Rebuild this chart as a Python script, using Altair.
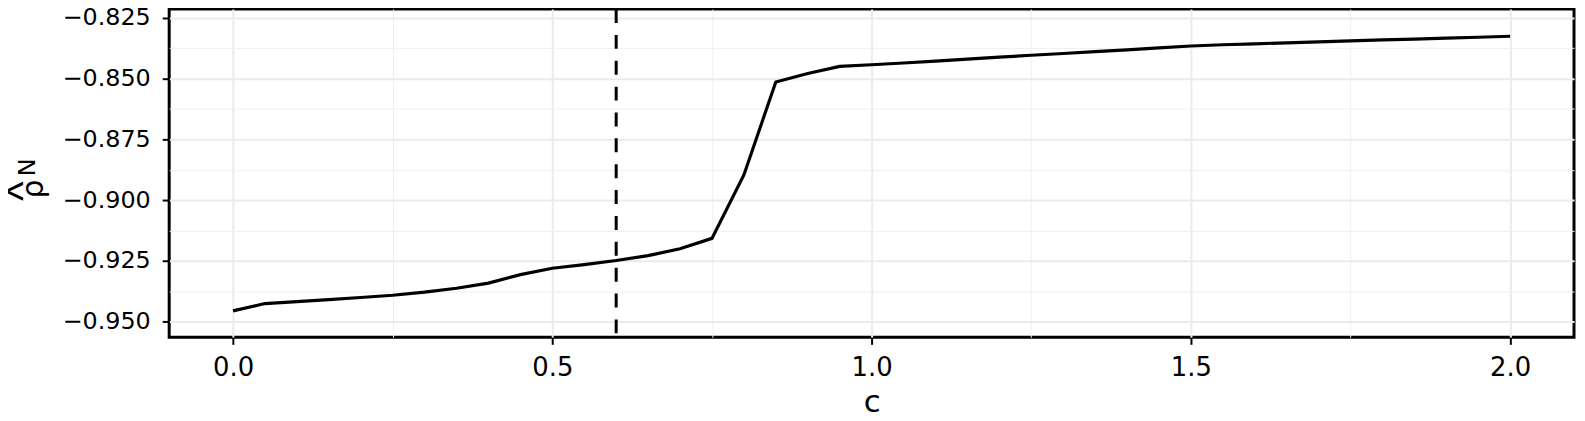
import altair as alt
import pandas as pd

c_vals = [0.00, 0.05, 0.10, 0.15, 0.20, 0.25, 0.30, 0.35, 0.40, 0.45,
          0.50, 0.55, 0.60, 0.65, 0.70, 0.75, 0.80, 0.85, 0.90, 0.95,
          1.00, 1.05, 1.10, 1.15, 1.20, 1.25, 1.30, 1.35, 1.40, 1.45,
          1.50, 1.55, 1.60, 1.65, 1.70, 1.75, 1.80, 1.85, 1.90, 1.95, 2.00]
rho_vals = [-0.9455, -0.9425, -0.9417, -0.9409, -0.9400, -0.9391, -0.9378, -0.9362, -0.9341, -0.9306,
            -0.9280, -0.9265, -0.9248, -0.9228, -0.9200, -0.9157, -0.8896, -0.8514, -0.8479, -0.8450,
            -0.8443, -0.8436, -0.8428, -0.8420, -0.8412, -0.8404, -0.8397, -0.8389, -0.8382, -0.8374,
            -0.8366, -0.8361, -0.8357, -0.8353, -0.8349, -0.8345, -0.8341, -0.8338, -0.8334, -0.8330, -0.8326]
vline_c = 0.6

x_major = [0.0, 0.5, 1.0, 1.5, 2.0]
x_minor = [0.25, 0.75, 1.25, 1.75]
y_major = [-0.950, -0.925, -0.900, -0.875, -0.850, -0.825]
y_minor = [-0.9375, -0.9125, -0.8875, -0.8625, -0.8375]

df = pd.DataFrame({"c": c_vals, "rho": rho_vals})
one = pd.DataFrame({"t": [0]})

xscale = alt.Scale(domain=[-0.1, 2.1], nice=False, zero=False)
yscale = alt.Scale(domain=[-0.9564, -0.8214], nice=False, zero=False)

FONT = "DejaVu Sans"

minor_grid = alt.Chart(df).mark_point(opacity=0).encode(
    x=alt.X("c:Q", scale=xscale,
            axis=alt.Axis(values=x_minor, orient="top", grid=True, gridWidth=1,
                          gridColor="#EFEFEF", labels=False, ticks=False,
                          domain=False, title=None)),
    y=alt.Y("rho:Q", scale=yscale,
            axis=alt.Axis(values=y_minor, orient="right", grid=True, gridWidth=1,
                          gridColor="#EFEFEF", labels=False, ticks=False,
                          domain=False, title=None)),
)

line = alt.Chart(df).mark_line(color="black", strokeWidth=3.2).encode(
    x=alt.X("c:Q", scale=xscale,
            axis=alt.Axis(values=x_major, format=".1f", title="c", grid=True,
                          gridColor="#EBEBEB", gridWidth=2,
                          labelFontSize=26, labelPadding=10,
                          titleFontSize=31, titlePadding=8)),
    y=alt.Y("rho:Q", scale=yscale,
            axis=alt.Axis(values=y_major, format=".3f", title=None, grid=True,
                          gridColor="#EBEBEB", gridWidth=2,
                          labelFontSize=24, labelPadding=12)),
)

vline = alt.Chart(one).mark_rule(color="black", strokeWidth=3,
                                 strokeDash=[14, 12]).encode(
    x=alt.datum(vline_c, scale=xscale, axis=None)
)

ylab_hat = alt.Chart(one).mark_text(text="^", font="Liberation Sans", fontSize=42,
                                    angle=270, align="center", baseline="alphabetic",
                                    color="black").encode(
    x=alt.value(-133), y=alt.value(183))
ylab_rho = alt.Chart(one).mark_text(text="\u03c1", font=FONT, fontSize=30,
                                    angle=270, align="center", baseline="alphabetic",
                                    color="black").encode(
    x=alt.value(-127), y=alt.value(181))
ylab_n = alt.Chart(one).mark_text(text="N", font=FONT, fontSize=24,
                                  angle=270, align="center", baseline="alphabetic",
                                  color="black").encode(
    x=alt.value(-135), y=alt.value(159))

chart = alt.layer(minor_grid, line, vline, ylab_hat, ylab_rho, ylab_n).resolve_axis(
    x="independent", y="independent"
).properties(
    width=1412, height=330,
    autosize=alt.AutoSizeParams(type="none"),
    padding={"left": 162, "top": 0, "right": 3, "bottom": 75},
    background="white",
).configure_view(
    stroke="black", strokeWidth=3, fill="white"
).configure_axis(
    labelFont=FONT, labelColor="black",
    titleFont=FONT, titleFontWeight="normal", titleColor="black",
    tickColor="black", tickWidth=2, tickSize=7, domain=False,
)

chart.save("out.html", embed_options={"renderer": "svg", "actions": False})
